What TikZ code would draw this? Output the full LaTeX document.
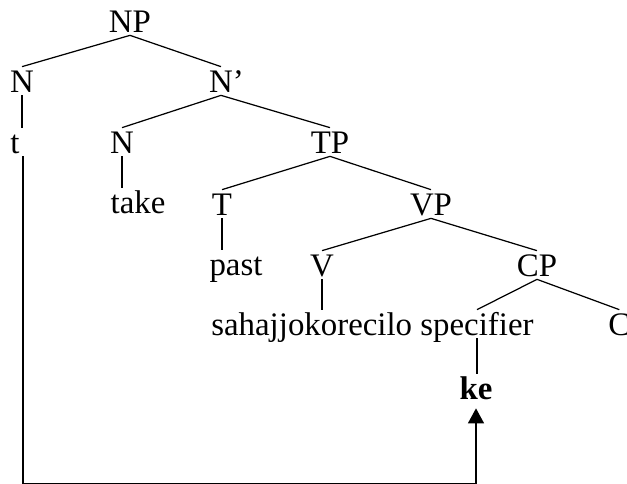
\documentclass[tikz,border=0pt]{standalone}
\usepackage{fontspec}
\setmainfont{Liberation Serif}
\usetikzlibrary{arrows.meta}
\begin{document}
\begin{tikzpicture}[>={Triangle[width=3.2mm,length=3mm]}, x=0.2mm, y=-0.2mm]

	% Kiểu cho nút chữ và nhánh của cây
	\tikzset{
		nut/.style={inner xsep=0pt, inner ysep=0.6mm, text height=4.4mm, text depth=0pt,
			font=\fontsize{18.7}{22}\selectfont, anchor=base},
		nhanh/.style={line width=0.7pt}
	}

	\useasboundingbox (0,0) rectangle (627,484);

	% Các nút (tọa độ theo đường chân chữ)
	\node[nut] (np) at (130,32) {NP};
	\node[nut] (n1) at (22,92) {N};
	\node[nut] (nbar) at (221,92) {N\rlap{’}};
	\node[nut] (t) at (15,153) {t};
	\node[nut] (n2) at (122,153) {N};
	\node[nut] (tp) at (330,153) {TP};
	\node[nut] (take) at (138,213) {take};
	\node[nut] (t1) at (222,215) {T};
	\node[nut] (vp) at (431,215) {VP};
	\node[nut] (past) at (236,275) {past};
	\node[nut] (v) at (322,276) {V};
	\node[nut] (cp) at (537,276) {CP};
	\node[nut, anchor=base west] (sah) at (211,335) {sahajjokorecilo};
	\node[nut] (spec) at (477,335) {specifier};
	\node[nut, anchor=base west] (c) at (608,335) {C};
	\node[nut, font=\fontsize{18.7}{22}\selectfont\bfseries] (ke) at (476,399) {ke};

	% Nhánh xiên: cha -- con
	\foreach \a/\b in {np/n1, np/nbar, nbar/n2, nbar/tp, tp/t1, tp/vp, vp/v, vp/cp, cp/spec, cp/c} {
		\draw[nhanh] (\a.south) -- (\b.north);
	}
	% Nhánh thẳng đứng xuống từ
	\foreach \a/\b in {n1/t, n2/take, t1/past, v/sah, spec/ke} {
		\draw[nhanh] (\a.south) -- (\a.south |- \b.north);
	}

	% Mũi tên di chuyển từ vết t lên ke
	\coordinate (goc) at (23,483.6);
	\draw[nhanh, ->, shorten >=1.2mm] (goc |- t.south) -- (goc) -- (goc -| ke.south) -- (ke.south);

\end{tikzpicture}
\end{document}
